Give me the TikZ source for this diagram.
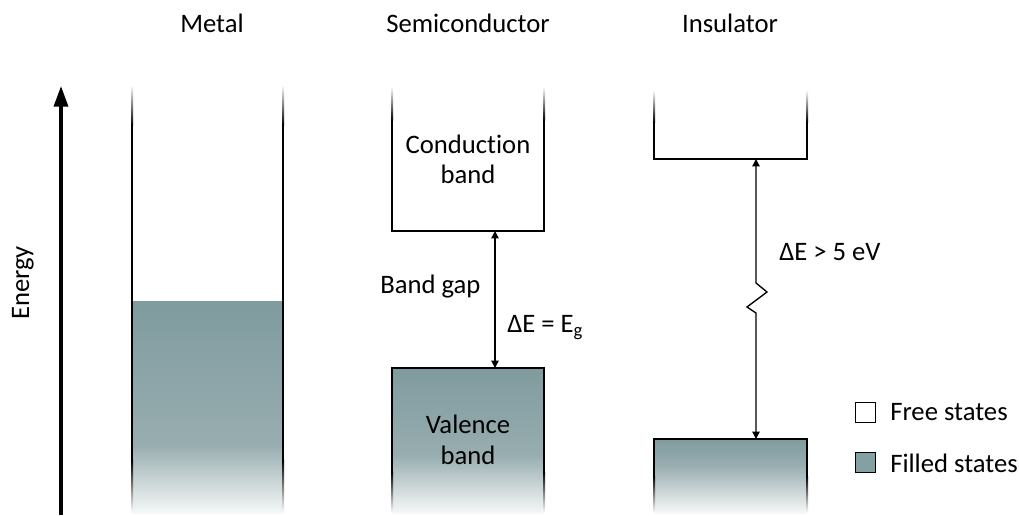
\documentclass[tikz,border=0pt]{standalone}
\usepackage{fontspec}
\setmainfont{Carlito}[Ligatures=NoCommon]
\usetikzlibrary{arrows.meta}
\definecolor{fillA}{RGB}{127,155,158}
\definecolor{fillB}{RGB}{152,173,176}
\definecolor{fillC}{RGB}{246,248,248}
\definecolor{legfill}{RGB}{132,160,163}
\newcommand{\sidetop}[3]{\shade[top color=white,bottom color=black] ({#1-1},#2) rectangle ({#1+1},#3);}
\newcommand{\sidesolid}[3]{\fill[black] ({#1-1},#2) rectangle ({#1+1},#3);}
\newcommand{\sidebot}[3]{\shade[top color=black,bottom color=white] ({#1-1},#2) rectangle ({#1+1},#3);}
\newcommand{\bandfill}[4]{%
  \shade[top color=fillA,bottom color=fillB] (#1,#3) rectangle (#2,#4+0.5);
  \shade[top color=fillB,bottom color=fillC] (#1,#4) rectangle (#2,513);}
\begin{document}
\begin{tikzpicture}[x=0.75pt,y=-0.75pt,
  font=\fontsize{20}{24}\selectfont,
  lbl/.style={inner sep=0pt,anchor=base},
  lblw/.style={inner sep=0pt,anchor=base west},
  edge/.style={line width=1.5pt,line cap=rect},
  gaparrow/.style={line width=1pt,{Triangle[length=5.5pt,width=5.5pt]}-{Triangle[length=5.5pt,width=5.5pt]}},
  legbox/.style={draw,line width=1.2pt,minimum width=15pt,minimum height=15pt,inner sep=0pt}]
\useasboundingbox (0,0) rectangle (1019,515);

% titles
\node[lbl] (tmetal) at (212,32) {Metal};
\node[lbl] (tsemi) at (468,32) {Semiconductor};
\node[lbl] (tins) at (730,32) {Insulator};

% energy axis
\coordinate (eBot) at (61,515);
\coordinate (eTop) at (61,86);
\draw[line width=2.6pt,-{Triangle[length=15.5pt,width=10.5pt]}] (eBot) -- (eTop);
\node[lbl,rotate=90] (energy) at (29,283) {Energy};

% metal
\bandfill{132}{283}{301}{445}
\foreach \x in {132,283}{\sidetop{\x}{85}{125}\sidesolid{\x}{125}{460}\sidebot{\x}{460}{513}}

% semiconductor: conduction band
\foreach \x in {392,544}{\sidetop{\x}{87}{120}\sidesolid{\x}{120}{231}}
\coordinate (cbL) at (392,231);
\coordinate (cbR) at (544,231);
\draw[edge] (cbL) -- (cbR);
\node[lbl] (cb1) at (468,153) {Conduction};
\node[lbl] (cb2) at (468,183) {band};

% semiconductor: valence band
\bandfill{392}{544}{368}{455}
\foreach \x in {392,544}{\sidesolid{\x}{368}{472}\sidebot{\x}{472}{513}}
\coordinate (vbL) at (392,368);
\coordinate (vbR) at (544,368);
\draw[edge] (vbL) -- (vbR);
\node[lbl] (vb1) at (468,433) {Valence};
\node[lbl] (vb2) at (468,464) {band};

% band gap arrow
\coordinate (cbA) at (495,231);
\coordinate (vbA) at (495,368);
\draw[gaparrow] (cbA) -- (vbA);
\node[lblw] (bg) at (380,293) {Band gap};
\node[lblw] (de) at (507,332) {ΔE = E\textsubscript{g}};

% insulator: top band
\foreach \x in {654,807}{\sidetop{\x}{90}{122}\sidesolid{\x}{122}{159}}
\coordinate (itL) at (654,159);
\coordinate (itR) at (807,159);
\draw[edge] (itL) -- (itR);

% insulator: bottom band
\bandfill{654}{807}{439}{465}
\foreach \x in {654,807}{\sidesolid{\x}{439}{476}\sidebot{\x}{476}{513}}
\coordinate (ibL) at (654,439);
\coordinate (ibR) at (807,439);
\draw[edge] (ibL) -- (ibR);

% insulator gap arrow with break
\coordinate (itA) at (756,159);
\coordinate (ibA) at (756,439);
\draw[gaparrow] (itA) -- (756,283) -- (767,292) -- (747,307) -- (756,313) -- (ibA);
\node[lblw] (dei) at (779,260) {ΔE > 5 eV};

% legend
\node[legbox,fill=white] (lfree) at (865.5,412.5) {};
\node[legbox,fill=legfill] (lfill) at (865.5,462.5) {};
\node[lblw] (tfree) at (890,420) {Free states};
\node[lblw] (tfill) at (890,472) {Filled states};
\end{tikzpicture}
\end{document}
